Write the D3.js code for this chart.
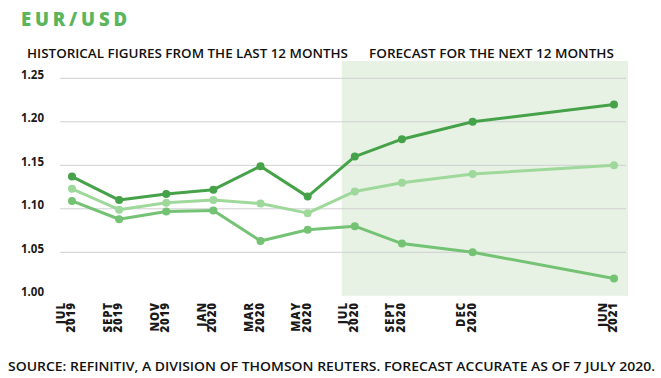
<!DOCTYPE html>
<html>
<head>
<meta charset="utf-8">
<script src="https://cdn.jsdelivr.net/npm/d3@7"></script>
<style>
  html, body { margin: 0; padding: 0; background: #ffffff; }
  svg { display: block; }
  text { font-family: "Open Sans", "DejaVu Sans", sans-serif; }
</style>
</head>
<body>
<div id="chart"></div>
<script>
// ---- data ----
const months = [0, 2, 4, 6, 8, 10, 12, 14, 17, 23]; // months since Jul 2019
const monthLabels = [
  ["JUL", "2019"], ["SEPT", "2019"], ["NOV", "2019"], ["JAN", "2020"], ["MAR", "2020"],
  ["MAY", "2020"], ["JUL", "2020"], ["SEPT", "2020"], ["DEC", "2020"], ["JUN", "2021"]
];
const highSeries = [1.137, 1.110, 1.117, 1.122, 1.149, 1.114, 1.16, 1.18, 1.20, 1.22];
const midSeries  = [1.123, 1.099, 1.107, 1.110, 1.106, 1.095, 1.12, 1.13, 1.14, 1.15];
const lowSeries  = [1.109, 1.088, 1.097, 1.098, 1.063, 1.076, 1.08, 1.06, 1.05, 1.02];
const yTicks = [1.00, 1.05, 1.10, 1.15, 1.20, 1.25];
const forecastStart = 12;
const title = "EUR/USD";
const histLabel = "HISTORICAL FIGURES FROM THE LAST 12 MONTHS";
const foreLabel = "FORECAST FOR THE NEXT 12 MONTHS";
const source = "SOURCE: REFINITIV, A DIVISION OF THOMSON REUTERS. FORECAST ACCURATE AS OF 7 JULY 2020.";

// ---- layout ----
const W = 661, H = 378;
const svg = d3.select("#chart").append("svg").attr("width", W).attr("height", H);

const x = d3.scaleLinear().domain([0, 23]).range([72, 614]);
const y = d3.scaleLinear().domain([1.0, 1.25]).range([295.8, 78.3]);

const gridLeft = 60, gridRight = 626;

// forecast shading
svg.append("rect")
  .attr("x", x(forecastStart) - 13)
  .attr("y", 61)
  .attr("width", gridRight + 2 - (x(forecastStart) - 13))
  .attr("height", y(1.0) - 61)
  .attr("fill", "#e7f2e5");

// gridlines (not at 1.00)
svg.append("g").selectAll("line")
  .data(yTicks.filter(t => t > 1.0))
  .join("line")
  .attr("x1", gridLeft).attr("x2", gridRight)
  .attr("y1", d => y(d)).attr("y2", d => y(d))
  .attr("stroke", "#cfcfcf").attr("stroke-width", 1);

// y labels
svg.append("g").selectAll("text")
  .data(yTicks)
  .join("text")
  .attr("x", 21)
  .attr("y", d => y(d) + 0.5)
  .attr("font-size", 11.5)
  .attr("font-weight", 700)
  .attr("fill", "#1a1a1a")
  .text(d => d.toFixed(2));

// x labels (rotated, two lines)
const xl = svg.append("g").selectAll("g")
  .data(monthLabels.map((l, i) => ({ l, m: months[i] })))
  .join("g")
  .attr("transform", d => `translate(${x(d.m) + 3},302) rotate(-90)`);
xl.append("text")
  .attr("text-anchor", "end")
  .attr("x", 0).attr("y", -10.5)
  .attr("font-size", 11.5).attr("font-weight", 800)
  .attr("letter-spacing", 0.9)
  .attr("fill", "#1a1a1a")
  .text(d => d.l[0]);
xl.append("text")
  .attr("text-anchor", "end")
  .attr("x", 0).attr("y", 0)
  .attr("font-size", 11.5).attr("font-weight", 800)
  .attr("letter-spacing", 0.9)
  .attr("fill", "#1a1a1a")
  .text(d => d.l[1]);

// series
const series = [
  { values: lowSeries, color: "#74c274" },
  { values: midSeries, color: "#9fd89b" },
  { values: highSeries, color: "#46a249" }
];
const line = d3.line().x(d => x(d[0])).y(d => y(d[1]));
series.forEach(s => {
  const pts = months.map((m, i) => [m, s.values[i]]);
  svg.append("path")
    .datum(pts)
    .attr("d", line)
    .attr("fill", "none")
    .attr("stroke", s.color)
    .attr("stroke-width", 3)
    .attr("stroke-linejoin", "round");
  svg.append("g").selectAll("circle")
    .data(pts)
    .join("circle")
    .attr("cx", d => x(d[0]))
    .attr("cy", d => y(d[1]))
    .attr("r", 4)
    .attr("fill", s.color);
});

// title
svg.append("text")
  .attr("x", 21).attr("y", 26)
  .attr("font-size", 18.5).attr("font-weight", 800)
  .attr("fill", "#5bb55b")
  .attr("textLength", 106).attr("lengthAdjust", "spacing")
  .text(title);

// section labels
svg.append("text")
  .attr("x", 27).attr("y", 57.5)
  .attr("font-size", 13).attr("font-weight", 600)
  .attr("fill", "#111")
  .attr("textLength", 321).attr("lengthAdjust", "spacingAndGlyphs")
  .text(histLabel);
svg.append("text")
  .attr("x", 369).attr("y", 57.5)
  .attr("font-size", 13).attr("font-weight", 600)
  .attr("fill", "#111")
  .attr("textLength", 245).attr("lengthAdjust", "spacingAndGlyphs")
  .text(foreLabel);

// source
svg.append("text")
  .attr("x", 8).attr("y", 371)
  .attr("font-size", 12).attr("font-weight", 600)
  .attr("fill", "#111")
  .attr("textLength", 647).attr("lengthAdjust", "spacingAndGlyphs")
  .text(source);
</script>
</body>
</html>
